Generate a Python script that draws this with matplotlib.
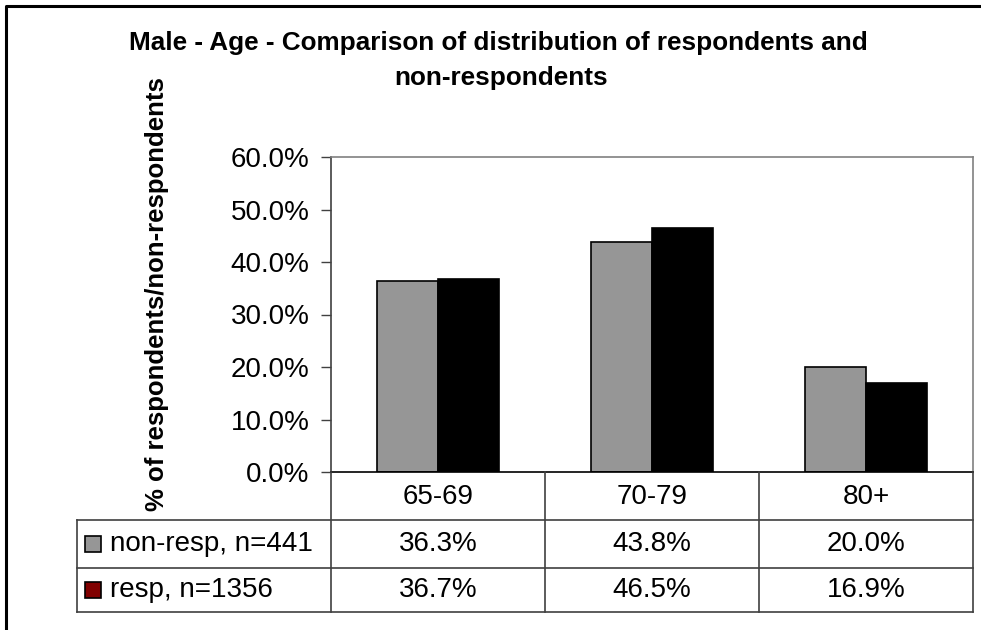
import matplotlib.pyplot as plt
from matplotlib.lines import Line2D
from matplotlib.patches import Rectangle

plt.rcParams['font.family'] = ['Liberation Sans', 'DejaVu Sans']

# data
categories = ['65-69', '70-79', '80+']
series_names = ['non-resp, n=441', 'resp, n=1356']
non_resp = [36.3, 43.8, 20.0]
resp = [36.7, 46.5, 16.9]
yticks = [0, 10, 20, 30, 40, 50, 60]

W, H = 981, 630
fig = plt.figure(figsize=(W / 100, H / 100), dpi=100)


def fx(px):
    return px / W


def fy(py):
    return 1 - py / H


# plot area in pixel coordinates
left, right, top, bottom = 331, 973, 157, 472
ax = fig.add_axes([fx(left), fy(bottom), fx(right - left), (bottom - top) / H])

bw = 0.286
xs = range(len(categories))
ax.bar([x - bw / 2 for x in xs], non_resp, width=bw, color='#969696',
       edgecolor='black', linewidth=1.2)
ax.bar([x + bw / 2 for x in xs], resp, width=bw, color='black',
       edgecolor='black', linewidth=1.2)

ax.set_xlim(-0.5, 2.5)
ax.set_ylim(0, 60)
ax.set_yticks(yticks)
ax.set_yticklabels(['%.1f%%' % t for t in yticks], fontsize=20)
ax.set_xticks([])
ax.tick_params(axis='y', direction='out', length=7, width=1, color='#404040', pad=8.5)
for side in ['top', 'right']:
    ax.spines[side].set_color('#808080')
    ax.spines[side].set_linewidth(1.2)
ax.spines['left'].set_color('#404040')
ax.spines['left'].set_linewidth(1.2)
ax.spines['bottom'].set_color('black')
ax.spines['bottom'].set_linewidth(1.2)

# title and y label
fig.text(fx(498), fy(50), 'Male - Age - Comparison of distribution of respondents and',
         ha='center', va='baseline', fontsize=18.8, fontweight='bold')
fig.text(fx(501), fy(85), 'non-respondents',
         ha='center', va='baseline', fontsize=18.8, fontweight='bold')
fig.text(fx(157), fy(294), '% of respondents/non-respondents', rotation=90,
         ha='center', va='center', fontsize=18.5, fontweight='bold')

# data table below the axis
col_x = [331, 545, 759, 973]
row_y = [472, 520, 568, 612]
tab_left = 77
lc = '#404040'


def hline(x0, x1, y):
    fig.add_artist(Line2D([fx(x0), fx(x1)], [fy(y), fy(y)], color=lc, lw=1.2))


def vline(x, y0, y1):
    fig.add_artist(Line2D([fx(x), fx(x)], [fy(y0), fy(y1)], color=lc, lw=1.2))


for y in row_y[1:]:
    hline(tab_left, col_x[-1], y)
for x in col_x:
    vline(x, row_y[0], row_y[-1])
vline(tab_left, row_y[1], row_y[-1])

for i, cat in enumerate(categories):
    cx = (col_x[i] + col_x[i + 1]) / 2
    fig.text(fx(cx), fy((row_y[0] + row_y[1]) / 2 + 1), cat,
             ha='center', va='center', fontsize=20)
    fig.text(fx(cx), fy((row_y[1] + row_y[2]) / 2), '%.1f%%' % non_resp[i],
             ha='center', va='center', fontsize=20)
    fig.text(fx(cx), fy((row_y[2] + row_y[3]) / 2), '%.1f%%' % resp[i],
             ha='center', va='center', fontsize=20)

swatch_colors = ['#969696', '#800000']
for j, name in enumerate(series_names):
    cy = (row_y[j + 1] + row_y[j + 2]) / 2
    fig.add_artist(Rectangle((fx(85), fy(cy + 8)), fx(16), 16 / H,
                             facecolor=swatch_colors[j], edgecolor='black', lw=1.2))
    fig.text(fx(110), fy(cy), name, ha='left', va='center', fontsize=20)

# outer chart frame (only the top and left edges show)
fig.add_artist(Line2D([fx(6), fx(6), fx(981)], [0, fy(6), fy(6)],
                      color='black', lw=2.2))

fig.savefig('out.png', dpi=100)
